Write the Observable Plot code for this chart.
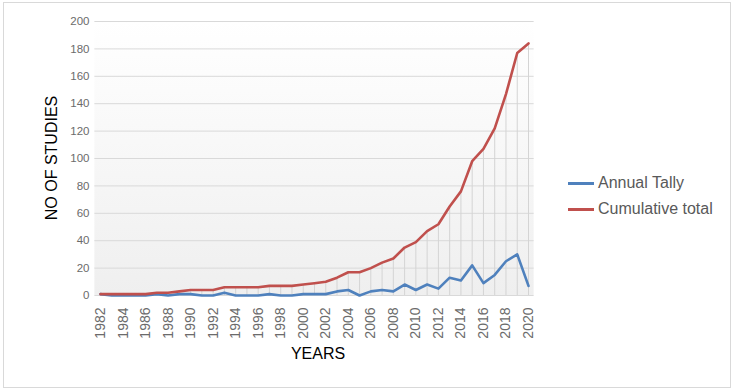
<!DOCTYPE html>
<html>
<head>
<meta charset="utf-8">
<script src="https://cdn.jsdelivr.net/npm/d3@7"></script>
<script src="https://cdn.jsdelivr.net/npm/@observablehq/plot@0.6"></script>
<style>
  html, body { margin: 0; padding: 0; background: #fff; }
  #wrap { position: relative; width: 733px; height: 390px; font-family: "Liberation Sans", Arial, sans-serif; overflow: hidden; }
  #frame { position: absolute; left: 3px; top: 2px; width: 726px; height: 384px; border: 1px solid #d9d9d9; pointer-events: none; }
  #chart { position: absolute; left: 0; top: 0; }
  .ytitle { position: absolute; left: 52px; top: 158px; transform: translate(-50%, -50%) rotate(-90deg); font-size: 16px; color: #000; white-space: nowrap; }
  .xtitle { position: absolute; left: 318px; top: 345px; transform: translateX(-50%); font-size: 16px; color: #000; white-space: nowrap; }
  .legend { position: absolute; left: 568px; top: 170px; font-size: 16px; color: #595959; }
  .legend div { display: flex; align-items: center; height: 26px; white-space: nowrap; }
  .legend span.sw { display: inline-block; width: 26px; height: 3px; margin-right: 4px; }
</style>
</head>
<body>
<div id="wrap">
  <div id="chart"></div>
  <div class="ytitle">NO OF STUDIES</div>
  <div class="xtitle">YEARS</div>
  <div class="legend" id="legend"></div>
  <div id="frame"></div>
</div>
<script>
const years = [1982,1983,1984,1985,1986,1987,1988,1989,1990,1991,1992,1993,1994,1995,1996,1997,1998,1999,2000,2001,2002,2003,2004,2005,2006,2007,2008,2009,2010,2011,2012,2013,2014,2015,2016,2017,2018,2019,2020];
const annualTally = [1,0,0,0,0,1,0,1,1,0,0,2,0,0,0,1,0,0,1,1,1,3,4,0,3,4,3,8,4,8,5,13,11,22,9,15,25,30,7];
const cumulativeTotal = [1,1,1,1,1,2,2,3,4,4,4,6,6,6,6,7,7,7,8,9,10,13,17,17,20,24,27,35,39,47,52,65,76,98,107,122,147,177,184];
const yTicks = [0,20,40,60,80,100,120,140,160,180,200];
const xTicks = [1982,1984,1986,1988,1990,1992,1994,1996,1998,2000,2002,2004,2006,2008,2010,2012,2014,2016,2018,2020];
const seriesNames = ["Annual Tally", "Cumulative total"];
const seriesColors = ["#4f81bd", "#c0504d"];

const data = years.map((year, i) => ({year, annual: annualTally[i], cumulative: cumulativeTotal[i]}));

const defs = () => {
  const d = d3.create("svg:defs");
  const g = d.append("linearGradient").attr("id", "bg").attr("x1", 0).attr("y1", 0).attr("x2", 0).attr("y2", 1);
  g.append("stop").attr("offset", "0%").attr("stop-color", "#ffffff");
  g.append("stop").attr("offset", "100%").attr("stop-color", "#efefef");
  return d.node();
};

const chart = Plot.plot({
  width: 733,
  height: 390,
  marginLeft: 100,
  marginRight: 205,
  marginTop: 21,
  marginBottom: 95,
  style: {fontFamily: "'Liberation Sans', Arial, sans-serif", background: "transparent", overflow: "visible"},
  x: {domain: [1982, 2020]},
  y: {domain: [0, 200]},
  marks: [
    defs,
    Plot.rect([0], {x1: 1981.5, x2: 2020.5, y1: 0, y2: 200, fill: "url(#bg)"}),
    Plot.ruleY(yTicks, {x1: 1981.5, x2: 2020.5, stroke: "#d9d9d9", strokeWidth: 1}),
    Plot.ruleX(data, {x: "year", y1: 0, y2: "cumulative", stroke: "#d4d4d4", strokeWidth: 1}),
    Plot.line(data, {x: "year", y: "annual", stroke: seriesColors[0], strokeWidth: 2.6}),
    Plot.line(data, {x: "year", y: "cumulative", stroke: seriesColors[1], strokeWidth: 2.6}),
    Plot.axisY({ticks: yTicks, tickSize: 0, tickPadding: 11, fontSize: 11.5, fill: "#6b6b6b", label: null}),
    Plot.axisX({ticks: xTicks, tickFormat: "d", tickRotate: -90, tickSize: 0, tickPadding: 12, fontSize: 14, fill: "#6b6b6b", label: null})
  ]
});
document.getElementById("chart").appendChild(chart);

const legend = document.getElementById("legend");
seriesNames.forEach((name, i) => {
  const row = document.createElement("div");
  const sw = document.createElement("span");
  sw.className = "sw";
  sw.style.background = seriesColors[i];
  row.appendChild(sw);
  row.appendChild(document.createTextNode(name));
  legend.appendChild(row);
});
</script>
</body>
</html>
